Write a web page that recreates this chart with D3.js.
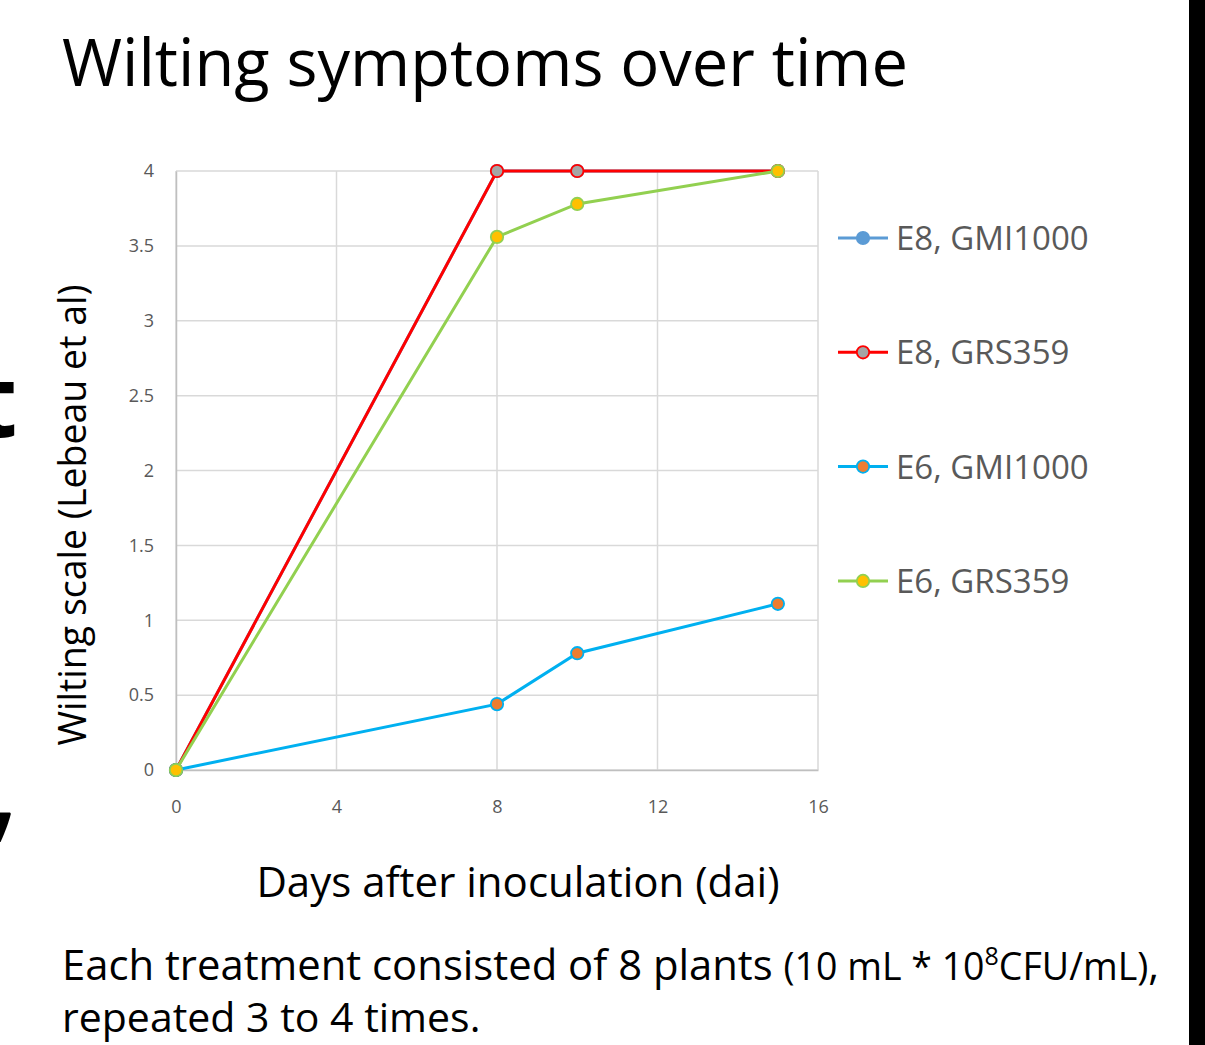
<!DOCTYPE html>
<html>
<head>
<meta charset="utf-8">
<script src="https://cdn.jsdelivr.net/npm/d3@7"></script>
<style>
  body { margin: 0; background: #fff; }
  svg { display: block; }
</style>
</head>
<body>
<div id="chart"></div>
<script>
// data
var days = [0, 8, 10, 15];
var seriesNames = ["E8, GMI1000", "E8, GRS359", "E6, GMI1000", "E6, GRS359"];
var e8gmi = [0, 4, 4, 4];
var e8grs = [0, 4, 4, 4];
var e6gmi = [0, 0.44, 0.78, 1.11];
var e6grs = [0, 3.56, 3.78, 4];
var xTicks = [0, 4, 8, 12, 16];
var yTicks = [0, 0.5, 1, 1.5, 2, 2.5, 3, 3.5, 4];

var styles = [
  {line: "#5b9bd5", fill: "#5b9bd5", stroke: "#5b9bd5"},
  {line: "#ff0000", fill: "#a5a5a5", stroke: "#ff0000"},
  {line: "#00b0f0", fill: "#ed7d31", stroke: "#00b0f0"},
  {line: "#92d050", fill: "#ffc000", stroke: "#92d050"}
];
var allSeries = [e8gmi, e8grs, e6gmi, e6grs];

var W = 1205, H = 1045;
var svg = d3.select("#chart").append("svg")
  .attr("width", W).attr("height", H);

var font = "Open Sans, Noto Sans, sans-serif";

// black strip on the right
svg.append("rect")
  .attr("x", 1189).attr("y", 0)
  .attr("width", W - 1189).attr("height", H)
  .attr("fill", "#000");

// bits of slide text cut off at the left edge
svg.append("text")
  .attr("x", -26).attr("y", 437)
  .style("font-family", font).style("font-weight", "bold")
  .style("font-size", "100px")
  .text("t");
svg.append("text")
  .attr("x", -16).attr("y", 826)
  .style("font-family", font).style("font-weight", "bold")
  .style("font-size", "120px")
  .text(",");

// title
svg.append("text")
  .attr("x", 62).attr("y", 86)
  .style("font-family", font)
  .style("font-size", "65px")
  .attr("fill", "#000")
  .text("Wilting symptoms over time");

var x = d3.scaleLinear().domain([0, 16]).range([176, 818]);
var y = d3.scaleLinear().domain([0, 4]).range([770, 171]);

// grid
svg.append("g").selectAll("line.h")
  .data(yTicks).enter().append("line")
  .attr("x1", x(0)).attr("x2", x(16))
  .attr("y1", d => y(d)).attr("y2", d => y(d))
  .attr("stroke", "#d9d9d9").attr("stroke-width", 1.5);
svg.append("g").selectAll("line.v")
  .data(xTicks).enter().append("line")
  .attr("y1", y(0)).attr("y2", y(4))
  .attr("x1", d => x(d)).attr("x2", d => x(d))
  .attr("stroke", "#d9d9d9").attr("stroke-width", 1.5);

// axes
var xAxis = svg.append("g")
  .attr("transform", "translate(0," + y(0) + ")")
  .call(d3.axisBottom(x).tickValues(xTicks).tickSize(0).tickPadding(30));
var yAxis = svg.append("g")
  .attr("transform", "translate(" + x(0) + ",0)")
  .call(d3.axisLeft(y).tickValues(yTicks).tickSize(0).tickPadding(22)
    .tickFormat(d3.format("")));
[xAxis, yAxis].forEach(function(a) {
  a.select(".domain").attr("stroke", "#bfbfbf").attr("stroke-width", 1.5);
  a.selectAll("text")
    .style("font-family", font)
    .style("font-size", "18px")
    .attr("fill", "#595959");
});

// axis titles
svg.append("text")
  .attr("x", 518).attr("y", 897)
  .attr("text-anchor", "middle")
  .style("font-family", font)
  .style("font-size", "42px")
  .text("Days after inoculation (dai)");

svg.append("text")
  .attr("transform", "translate(86,515) rotate(-90)")
  .attr("text-anchor", "middle")
  .style("font-family", font)
  .style("font-size", "37.5px")
  .text("Wilting scale (Lebeau et al)");

// lines + markers
var line = d3.line()
  .x(function(d, i) { return x(days[i]); })
  .y(function(d) { return y(d); });

allSeries.forEach(function(s, k) {
  var g = svg.append("g");
  g.append("path")
    .datum(s)
    .attr("fill", "none")
    .attr("stroke", styles[k].line)
    .attr("stroke-width", 3)
    .attr("d", line);
  g.selectAll("circle")
    .data(s).enter().append("circle")
    .attr("cx", function(d, i) { return x(days[i]); })
    .attr("cy", function(d) { return y(d); })
    .attr("r", 6.2)
    .attr("fill", styles[k].fill)
    .attr("stroke", styles[k].stroke)
    .attr("stroke-width", 1.8);
});

// legend
var legend = svg.append("g");
seriesNames.forEach(function(name, k) {
  var ly = 238 + k * 114.3;
  legend.append("line")
    .attr("x1", 838).attr("x2", 888)
    .attr("y1", ly).attr("y2", ly)
    .attr("stroke", styles[k].line).attr("stroke-width", 3);
  legend.append("circle")
    .attr("cx", 863).attr("cy", ly).attr("r", 6.2)
    .attr("fill", styles[k].fill)
    .attr("stroke", styles[k].stroke).attr("stroke-width", 1.8);
  legend.append("text")
    .attr("x", 896).attr("y", ly + 12)
    .style("font-family", font)
    .style("font-size", "33px")
    .attr("fill", "#595959")
    .text(name);
});

// note at bottom
var note = svg.append("text")
  .attr("x", 62).attr("y", 980)
  .style("font-family", font)
  .style("font-size", "41.8px");
note.append("tspan").text("Each treatment consisted of 8 plants ");
note.append("tspan").style("font-size", "37.5px").text("(10 mL * 10");
note.append("tspan").style("font-size", "25px").attr("dy", -15).text("8");
note.append("tspan").style("font-size", "37.5px").attr("dy", 15).text("CFU/mL)");
note.append("tspan").text(",");

svg.append("text")
  .attr("x", 62).attr("y", 1032)
  .style("font-family", font)
  .style("font-size", "41px")
  .text("repeated 3 to 4 times.");
</script>
</body>
</html>
